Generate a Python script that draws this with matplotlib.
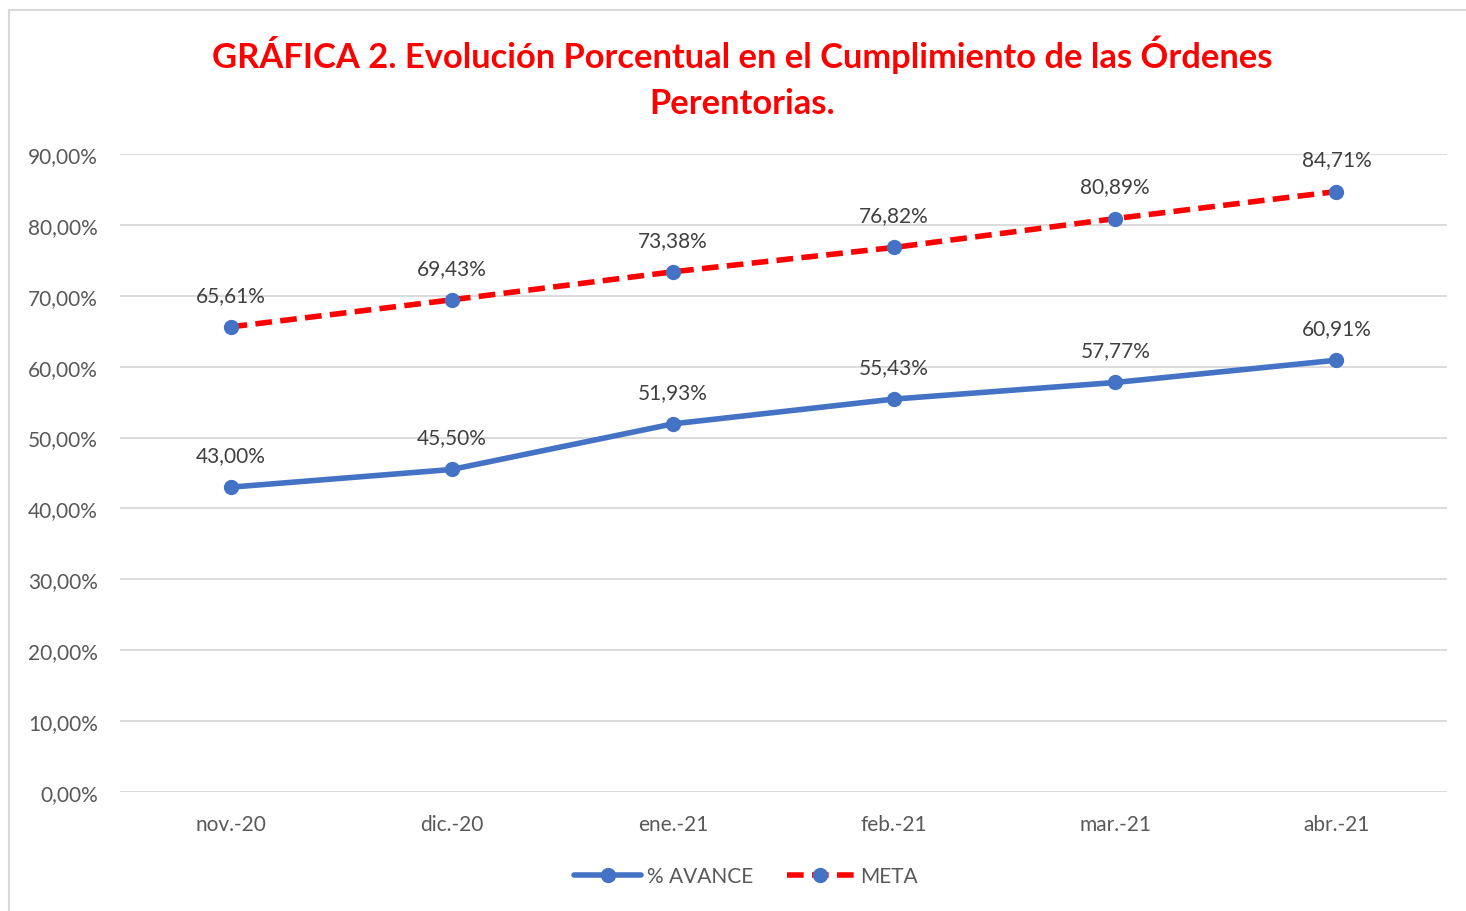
import matplotlib.pyplot as plt
from matplotlib.patches import Rectangle
from matplotlib.ticker import FuncFormatter

plt.rcParams['font.family'] = ['Lato', 'DejaVu Sans']

meses = ['nov.-20', 'dic.-20', 'ene.-21', 'feb.-21', 'mar.-21', 'abr.-21']
avance = [43.00, 45.50, 51.93, 55.43, 57.77, 60.91]
meta = [65.61, 69.43, 73.38, 76.82, 80.89, 84.71]

azul = '#4472c4'
rojo = '#ff0000'
gris_texto = '#595959'


def fmt_pct(v):
    return f'{v:.2f}'.replace('.', ',') + '%'


fig = plt.figure(figsize=(14.66, 9.12), dpi=100)
ax = fig.add_axes([120 / 1466, 1 - 793 / 912, (1447 - 120) / 1466, (793 - 155) / 912])

# chart frame (bottom and right edges fall outside the image)
fig.patches.append(Rectangle((9 / 1466, -0.1), 1.2, 1.1 - 11 / 912, transform=fig.transFigure,
                             fill=False, edgecolor='#d9d9d9', linewidth=1.5))

x = range(len(meses))
ax.plot(x, avance, color=azul, linewidth=4, marker='o', markersize=10,
        markerfacecolor=azul, markeredgecolor=azul, label='% AVANCE', solid_capstyle='round')
ax.plot(x, meta, color=rojo, linewidth=4, linestyle=(0, (3, 1.5)), marker='o', markersize=10,
        markerfacecolor=azul, markeredgecolor=azul, label='META')

for i, v in enumerate(avance):
    ax.annotate(fmt_pct(v), (i, v), xytext=(0, 16), textcoords='offset points',
                ha='center', va='bottom', fontsize=15, color='#404040')
for i, v in enumerate(meta):
    ax.annotate(fmt_pct(v), (i, v), xytext=(0, 16), textcoords='offset points',
                ha='center', va='bottom', fontsize=15, color='#404040')

ax.set_xlim(-0.5, len(meses) - 0.5)
ax.set_ylim(0, 90)
ax.set_yticks(range(0, 91, 10))
ax.yaxis.set_major_formatter(FuncFormatter(lambda v, p: fmt_pct(v)))
ax.set_xticks(list(x))
ax.set_xticklabels(meses)
ax.tick_params(axis='both', length=0, labelsize=15, labelcolor=gris_texto)
ax.tick_params(axis='y', pad=16)
ax.tick_params(axis='x', pad=16)
ax.grid(axis='y', color='#d9d9d9', linewidth=1.3)
ax.set_axisbelow(True)
for s in ax.spines.values():
    s.set_visible(False)

fig.text(0.506, 1 - 78 / 912, 'GRÁFICA 2. Evolución Porcentual en el Cumplimiento de las Órdenes\nPerentorias.',
         ha='center', va='center', fontsize=24.8, fontweight='bold', color=rojo, linespacing=1.55)

leg = fig.legend(loc='center', bbox_to_anchor=(746 / 1466, 1 - 877 / 912), ncol=2, frameon=False,
                 fontsize=15, handlelength=3.2, columnspacing=1.6, handletextpad=0.3)
for t in leg.get_texts():
    t.set_color(gris_texto)

fig.savefig('out.png', dpi=100)
